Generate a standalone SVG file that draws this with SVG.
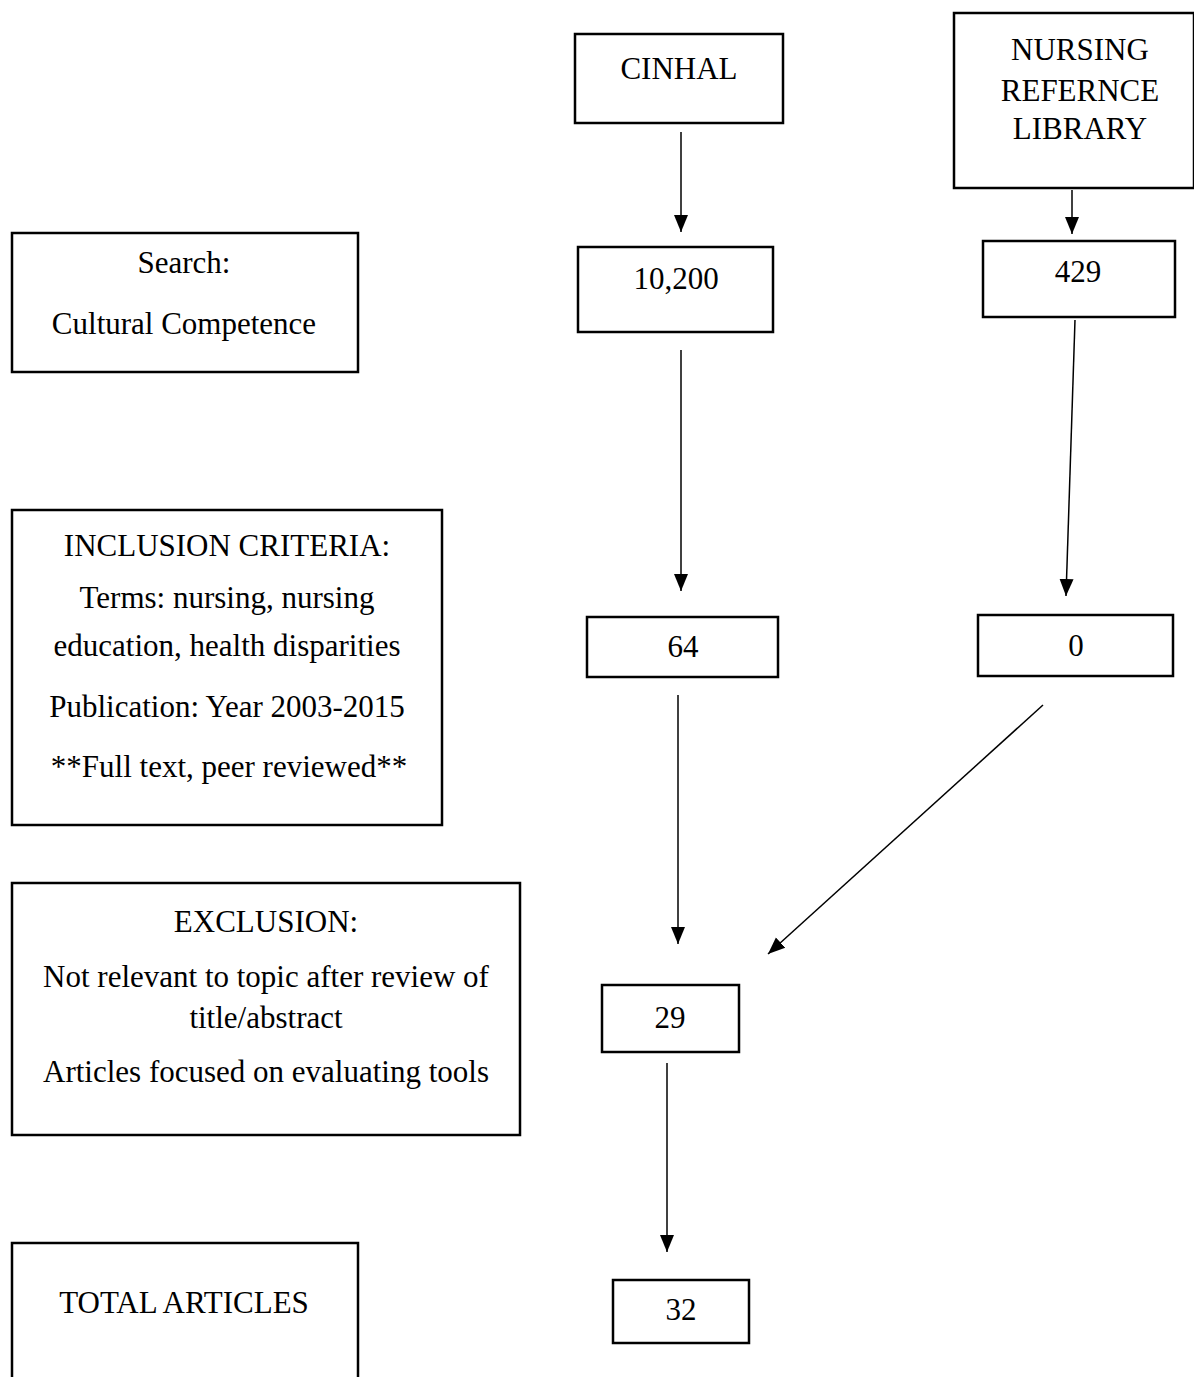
<svg xmlns="http://www.w3.org/2000/svg" width="1194" height="1377" viewBox="0 0 1194 1377">
<style>
.box{fill:#fff;stroke:#000;stroke-width:2.5}
.t{font-family:"Liberation Serif","Times New Roman",serif;font-size:31px;fill:#000;text-anchor:middle}
.c{stroke:#000;stroke-width:1.5;fill:none;marker-end:url(#ah)}
</style>
<defs>
<marker id="ah" markerUnits="userSpaceOnUse" markerWidth="18" markerHeight="16" refX="17" refY="8" orient="auto">
<path d="M0,1 L17,8 L0,15 Z" fill="#000"/>
</marker>
</defs>
<rect width="1194" height="1377" fill="#fff"/>
<g id="cinhal"><rect class="box" x="575" y="34" width="208" height="89"/><text class="t" x="679" y="79">CINHAL</text></g>
<g id="nrl"><rect class="box" x="954" y="13" width="240" height="175"/><text class="t" x="1080" y="60">NURSING</text><text class="t" x="1080" y="101">REFERNCE</text><text class="t" x="1080" y="139">LIBRARY</text></g>
<g id="search"><rect class="box" x="12" y="233" width="346" height="139"/><text class="t" x="184" y="273">Search:</text><text class="t" x="184" y="334">Cultural Competence</text></g>
<g id="n10200"><rect class="box" x="578" y="247" width="195" height="85"/><text class="t" x="676" y="289">10,200</text></g>
<g id="n429"><rect class="box" x="983" y="241" width="192" height="76"/><text class="t" x="1078" y="282">429</text></g>
<g id="inclusion"><rect class="box" x="12" y="510" width="430" height="315"/><text class="t" x="227" y="556">INCLUSION CRITERIA:</text><text class="t" x="227" y="608">Terms: nursing, nursing</text><text class="t" x="227" y="656">education, health disparities</text><text class="t" x="227" y="717">Publication: Year 2003-2015</text><text class="t" x="229" y="777">**Full text, peer reviewed**</text></g>
<g id="n64"><rect class="box" x="587" y="617" width="191" height="60"/><text class="t" x="683" y="657">64</text></g>
<g id="n0"><rect class="box" x="978" y="615" width="195" height="61"/><text class="t" x="1076" y="656">0</text></g>
<g id="exclusion"><rect class="box" x="12" y="883" width="508" height="252"/><text class="t" x="266" y="932">EXCLUSION:</text><text class="t" x="266" y="987">Not relevant to topic after review of</text><text class="t" x="266" y="1028">title/abstract</text><text class="t" x="266" y="1082">Articles focused on evaluating tools</text></g>
<g id="n29"><rect class="box" x="602" y="985" width="137" height="67"/><text class="t" x="670" y="1028">29</text></g>
<g id="total"><rect class="box" x="12" y="1243" width="346" height="140"/><text class="t" x="184" y="1313">TOTAL ARTICLES</text></g>
<g id="n32"><rect class="box" x="613" y="1280" width="136" height="63"/><text class="t" x="681" y="1320">32</text></g>
<g id="connectors">
<line class="c" x1="681" y1="132" x2="681" y2="232"/>
<line class="c" x1="1072" y1="190" x2="1072" y2="234"/>
<line class="c" x1="681" y1="350" x2="681" y2="591"/>
<line class="c" x1="1075" y1="320" x2="1066" y2="596"/>
<line class="c" x1="678" y1="695" x2="678" y2="944"/>
<line class="c" x1="1043" y1="705" x2="768" y2="954"/>
<line class="c" x1="667" y1="1063" x2="667" y2="1252"/>
</g>
</svg>
